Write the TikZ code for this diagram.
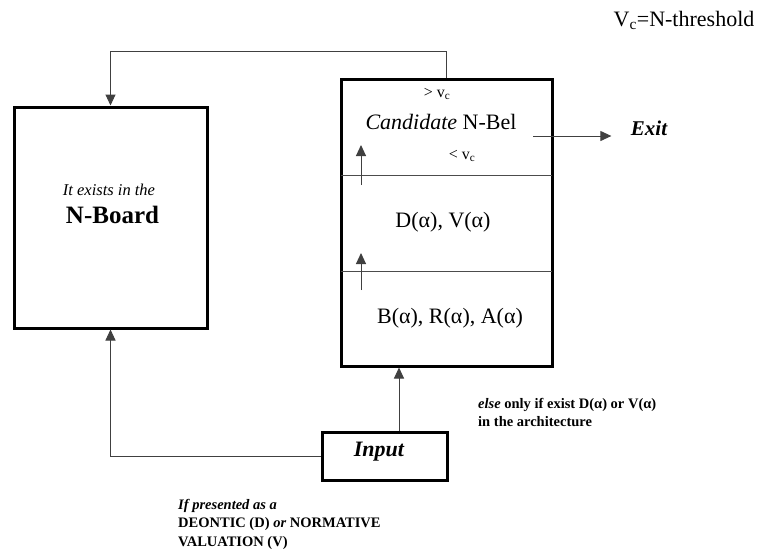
\documentclass[tikz,border=0pt]{standalone}
\usepackage{fontspec}
\setmainfont{Liberation Serif}
\usetikzlibrary{positioning, arrows.meta}

\begin{document}
\begin{tikzpicture}[x=1pt, y=-1pt,
  box/.style={draw, line width=3pt, inner sep=0pt},
  conn/.style={draw=black!75, line width=1pt, -{Triangle[length=11pt, width=10pt]}},
  divider/.style={draw=black!70, line width=1pt},
  big/.style={font=\fontsize{22}{24}\selectfont},
  small/.style={font=\fontsize{16}{17}\selectfont},
  note/.style={font=\fontsize{14.5}{18.5}\selectfont\bfseries, align=left, anchor=west, inner sep=0pt}]
  \useasboundingbox (0,0) rectangle (757,552);
  \draw
    (110.5,217.5) node[box, minimum width=193pt, minimum height=221pt] (board){}
    (446.5,222.5) node[box, minimum width=211pt, minimum height=287pt] (nbel){}
    (384.5,456) node[box, minimum width=125pt, minimum height=48pt] (input){};
  \draw[divider] (341,175) -- (552,175);
  \draw[divider] (341,271) -- (552,271);
  \draw
    (109,190) node[font=\fontsize{16.5}{18}\selectfont\itshape] (exists){It exists in the}
    (112.5,215) node[font=\fontsize{25}{28}\selectfont\bfseries] (nboard){N-Board}
    (437,94) node[small] (gtvc){> v\textsubscript{c}}
    (441,122) node[big] (cand){\textit{Candidate} N-Bel}
    (462,156) node[small] (ltvc){< v\textsubscript{c}}
    (443,222) node[big] (dv){D(α), V(α)}
    (450,318) node[big] (bra){B(α), R(α), A(α)}
    (379,452) node[font=\fontsize{22}{24}\selectfont\bfseries\itshape] (inp){Input}
    (649,128) node[font=\fontsize{21}{24}\selectfont\bfseries\itshape] (exit){Exit}
    (684,20) node[big] (vc){V\textsubscript{c}=N-threshold}
    (478,412.5) node[note] (elsenote){\textit{else} only if exist D(α) or V(α)\\in the architecture}
    (178,524) node[note] (ifnote){\textit{If presented as a}\\DEONTIC (D) \textit{or} NORMATIVE\\VALUATION (V)};
  % connectors
  \coordinate (fb) at (110.5,51);
  \coordinate (inx) at (399,0);
  \coordinate (exstart) at (533,136);
  \coordinate (up1a) at (361,185);
  \coordinate (up1b) at (361,145);
  \coordinate (up2a) at (361,290);
  \coordinate (up2b) at (361,253);
  \begin{scope}[conn]
    \draw (nbel.north) |- (fb) -- (board.north);
    \draw (input.north -| inx) -- (nbel.south -| inx);
    \draw (input.west) -| (board.south);
    \draw[shorten >=16pt] (exstart) -- (exstart -| exit.west);
    \draw (up1a) -- (up1b);
    \draw (up2a) -- (up2b);
  \end{scope}
\end{tikzpicture}
\end{document}
